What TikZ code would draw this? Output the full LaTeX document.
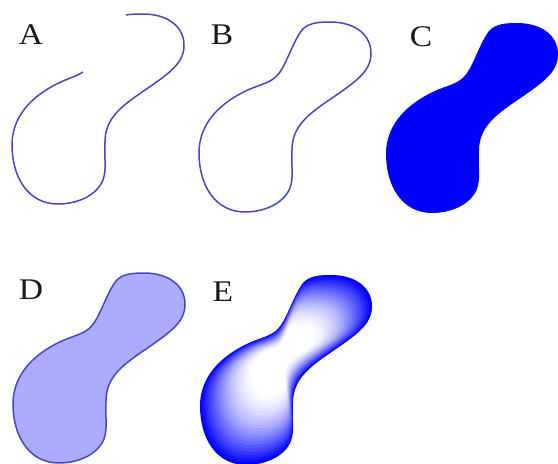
\documentclass[tikz,border=0pt]{standalone}
\usepackage{fontspec}
\setmainfont{Liberation Serif}
\begin{document}
\begin{tikzpicture}[x=1pt,y=-1pt,
  lbl/.style={font=\fontsize{30}{30}\selectfont, text=black!90, inner sep=0pt},
  edge/.style={draw={rgb,255:red,70;green,70;blue,205}, line width=1.5pt}]
\useasboundingbox (0,0) rectangle (558,464);
\def\blobmain{(140,22) .. controls (165,22) and (182,35) .. (181,55)
  .. controls (180,72) and (165,82) .. (145,96)
  .. controls (120,113) and (102,125) .. (102,150)
  .. controls (101,168) and (104,176) .. (100,188)
  .. controls (93,205) and (72,212) .. (55,212)
  .. controls (25,212) and (9,185) .. (9,153)
  .. controls (9,120) and (35,100) .. (60,89)}
\def\blob{\blobmain .. controls (75,83) and (83,82) .. (90,72)
  .. controls (97,62) and (104,40) .. (112,30)
  .. controls (118,23) and (128,22) .. (140,22) -- cycle}
% A
\node[lbl] (la) at (31,35) {\scalebox{1.12}[1]{A}};
\begin{scope}[shift={(3,-8)}]
\draw[edge] (123,23) .. controls (129,22) and (134,22) .. \blobmain
  .. controls (67,86) and (74,84) .. (80,80);
\end{scope}
% B
\node[lbl] (lb) at (222,35) {\scalebox{1.12}[1]{B}};
\begin{scope}[shift={(190,0)}]
\draw[edge] \blob;
\end{scope}
% C
\node[lbl] (lc) at (421,37) {\scalebox{1.12}[1]{C}};
\begin{scope}[shift={(377,1)}]
\fill[blue] \blob;
\end{scope}
% D
\node[lbl] (ld) at (31,290) {\scalebox{1.12}[1]{D}};
\begin{scope}[shift={(4,251)}]
\draw[edge, fill={rgb,255:red,172;green,172;blue,255}] \blob;
\end{scope}
% E
\node[lbl] (le) at (223,292) {\scalebox{1.12}[1]{E}};
\begin{scope}[shift={(191,253)}]
\foreach \k in {0,...,28}{
  \pgfmathsetmacro{\t}{1-\k/28*0.85}
  \pgfmathsetmacro{\pc}{100*max(0,(\t-0.35)/0.65)^1.6}
  \begin{scope}[shift={(90,102)}, scale=\t, shift={(-90,-102)}]
    \fill[color=blue!\pc!white] \blob;
  \end{scope}
}
\end{scope}
\end{tikzpicture}
\end{document}
